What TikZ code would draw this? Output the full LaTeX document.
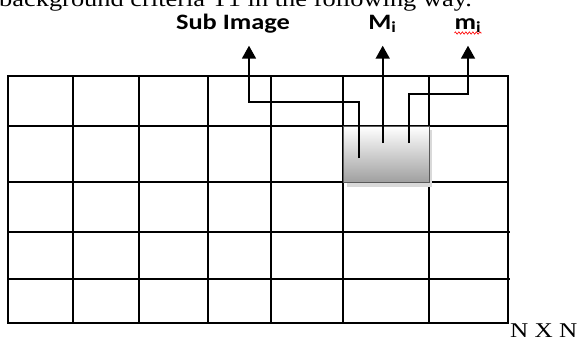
\documentclass[tikz,border=0pt]{standalone}
\usepackage{fontspec}
\setmainfont{Liberation Serif}
\newfontfamily\calibri{Carlito}
\usetikzlibrary{arrows.meta,decorations.pathmorphing}

\tikzset{
  gridline/.style={line width=1.8pt},
  link/.style={line width=1.8pt,-{Triangle[width=14pt,length=13pt]}},
  lbl/.style={font=\calibri\bfseries\fontsize{22}{26}\selectfont,inner sep=0pt,anchor=base},
  squiggle/.style={red,line width=0.6pt,decorate,decoration={zigzag,segment length=3.5pt,amplitude=1.2pt}}
}

\begin{document}
\begin{tikzpicture}[x=1pt,y=-1pt]
      \useasboundingbox (0,0) rectangle (577,338);
      % text line above the figure, cut by the page
      \node[anchor=base west,inner sep=0pt,font=\fontsize{22}{26}\selectfont] (caption) at (-1,6.5)
        {\scalebox{1.2}[1]{background criteria T1 in the following way.}};
      % routine for the grid
      \draw[gridline] (8.3,76) rectangle (507.7,323.3);
      \draw[gridline] (8.3,126.3) -- (507.7,126.3);
      \draw[gridline] (8.3,182.3) -- (507.7,182.3);
      \draw[gridline] (8.3,232.3) -- (510,232.3);
      \draw[gridline] (8.3,279) -- (510,279);
      \draw[gridline] (73,76) -- (73,323.3);
      \draw[gridline] (139,76) -- (139,323.3);
      \draw[gridline] (207.7,76) -- (207.7,323.3);
      \draw[gridline] (271,76) -- (271,323.3);
      \draw[gridline] (343,76) -- (343,323.3);
      \draw[gridline] (429,76) -- (429,323.3);
      % shaded sub image
      \fill[gray!30] (347,130) rectangle (432,186.5);
      \shade[top color=white,middle color=gray!30,bottom color=gray!75,draw=gray!70!black,line width=0.8pt]
        (343,126.3) rectangle (429,182.3);
      % labels
      \node[lbl] (subimg) at (233,29) {\scalebox{1.2}[1]{Sub Image}};
      \node[lbl] (Mi) at (382.5,29) {\scalebox{1.2}[1]{M\textsubscript{i}}};
      \node[lbl] (mi) at (468,29) {\scalebox{1.2}[1]{m\textsubscript{i}}};
      \draw[squiggle] ([yshift=-4pt]mi.base west) -- ([yshift=-4pt]mi.base east);
      \node[anchor=base west,inner sep=0pt,font=\fontsize{21}{24}\selectfont] (nxn) at (510,337)
        {\scalebox{1.2}[1]{N X N}};
      % arrow ends
      \coordinate (subfoot) at (359,158);
      \coordinate (Mfoot) at (382.7,143);
      \coordinate (mfoot) at (409,143);
      \coordinate (subtip) at (249,45.7);
      \coordinate (Mtip) at (382.7,45.7);
      \coordinate (mtip) at (468,45.7);
      \draw[link] (subfoot) -- ++(0,-56.3) -| (subtip);
      \draw[link] (Mfoot) -- (Mtip);
      \draw[link] (mfoot) -- ++(0,-48.7) -| (mtip);
\end{tikzpicture}
\end{document}
